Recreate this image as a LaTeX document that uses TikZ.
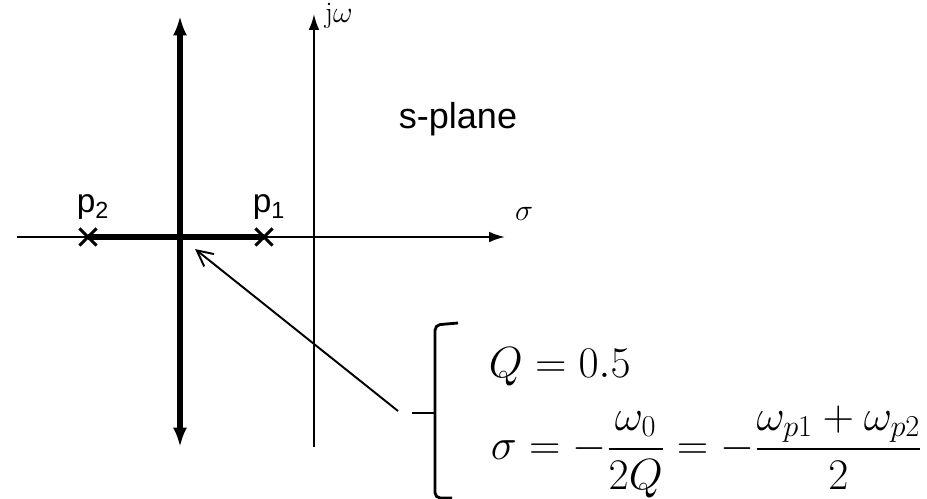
\documentclass[tikz,border=0pt]{standalone}
\usepackage{amsmath}
\usepackage{fontspec}
\setsansfont{Liberation Sans}
\usetikzlibrary{arrows.meta,shapes.misc}
\tikzset{math/.style = {execute at begin node=$, execute at end node=$},
  pole/.style = {cross out, draw, line width=1.8pt, minimum size=8pt, inner sep=0pt},
  lbl/.style = {font=\sffamily\fontsize{19}{22}\selectfont},
  eqn/.style = {anchor=west, inner sep=0pt, font=\fontsize{25.5}{30}\selectfont}}

\begin{document}
\begin{tikzpicture}[x=.02cm, y=-.02cm, line width=1.1pt]
      \useasboundingbox (0,0) rectangle (927,499);
      \coordinate (west) at (17,237);
      \coordinate (east) at (505,237);
      \coordinate (jtop) at (314,14);
      \coordinate (jbot) at (314,447);
      \coordinate (ktop) at (180,16);
      \coordinate (kbot) at (180,447);
      \coordinate (orig) at (180,237);
      \coordinate (tail) at (398,411);
      \draw [-{Latex[length=9pt,width=6pt]}] (west) -- (east);
      \draw [-{Latex[length=9pt,width=6pt]}] (jbot) -- (jtop);
      \draw [line width=3pt, {Latex[length=11pt,width=8pt]}-{Latex[length=11pt,width=8pt]}] (kbot) -- (ktop);
      \node [pole] (p2) at (88,237) {};
      \node [pole] (p1) at (264,237) {};
      \draw [line width=3.2pt] (p2.center) -- (p1.center);
      \node [lbl] (p2l) at (93,207) {p\textsubscript{2}};
      \node [lbl] (p1l) at (269,207) {p\textsubscript{1}};
      \node [lbl, font=\sffamily\fontsize{20.5}{24}\selectfont] (plane) at (458,119) {s-plane};
      \node [math, font=\fontsize{17}{20}\selectfont] (sig) at (524,214) {\sigma};
      \node [anchor=west, font=\fontsize{17}{20}\selectfont] (jw) at (318,16) {j$\omega$};
      \draw [-{Straight Barb[length=9pt,width=9pt]}, shorten >=11pt] (tail) -- (orig);
      \draw [line width=1.6pt, rounded corners=3pt]
        (458,323) -- (435,325) -- (435,498) -- (452,498);
      \draw [line width=1.6pt] (412,413) -- (435,413);
      \node [eqn] (qval) at (488,367) {$Q=0.5$};
      \node [eqn] (sdef) at (490,452)
        {$\sigma=-\dfrac{\omega_0}{2Q}=-\dfrac{\omega_{p1}+\omega_{p2}}{2}$};
\end{tikzpicture}
\end{document}
